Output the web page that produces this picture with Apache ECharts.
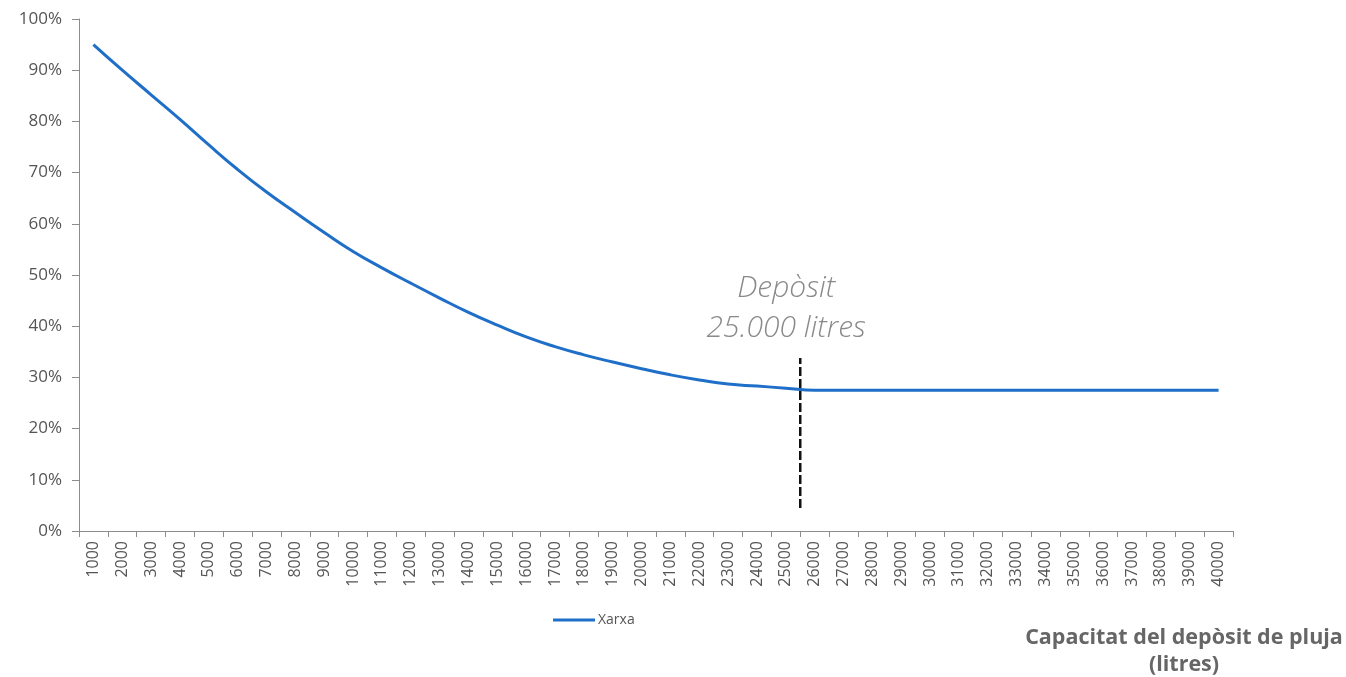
<!DOCTYPE html>
<html>
<head>
<meta charset="utf-8">
<script src="https://cdn.jsdelivr.net/npm/echarts@6/dist/echarts.min.js"></script>
<style>
  html, body { margin: 0; padding: 0; background: #fff; }
  #chart { width: 1346px; height: 677px; }
</style>
</head>
<body>
<div id="chart"></div>
<script>
// capacitat del depòsit (litres)
const capacitats = [
  1000, 2000, 3000, 4000, 5000, 6000, 7000, 8000, 9000, 10000,
  11000, 12000, 13000, 14000, 15000, 16000, 17000, 18000, 19000, 20000,
  21000, 22000, 23000, 24000, 25000, 26000, 27000, 28000, 29000, 30000,
  31000, 32000, 33000, 34000, 35000, 36000, 37000, 38000, 39000, 40000
];
// % d'aigua de xarxa
const xarxa = [
  95.0, 90.0, 85.2, 80.4, 75.4, 70.6, 66.2, 62.2, 58.3, 54.6,
  51.4, 48.4, 45.5, 42.7, 40.2, 37.9, 36.0, 34.4, 33.0, 31.7,
  30.5, 29.5, 28.7, 28.3, 27.9, 27.5, 27.5, 27.5, 27.5, 27.5,
  27.5, 27.5, 27.5, 27.5, 27.5, 27.5, 27.5, 27.5, 27.5, 27.5
];
const yTicks = [0, 10, 20, 30, 40, 50, 60, 70, 80, 90, 100];
// línia del depòsit escollit (entre 25000 i 26000)
const diposit = [[25500, 4.5], [25500, 33.8]];

const chart = echarts.init(document.getElementById("chart"));
const font = "'Open Sans', 'DejaVu Sans', sans-serif";

chart.setOption({
  animation: false,
  textStyle: { fontFamily: font },
  grid: { left: 79, right: 113, top: 19, bottom: 146 },
  legend: {
    data: ["Xarxa"],
    left: 548,
    top: 608,
    icon: "rect",
    itemWidth: 42,
    itemHeight: 3,
    itemGap: 3,
    textStyle: { color: "#555", fontSize: 14, fontFamily: font, padding: [0, 0, 0, -2] }
  },
  title: {
    text: "Capacitat del depòsit de pluja\n(litres)",
    left: 1179,
    top: 619,
    textAlign: "center",
    textStyle: {
      color: "#666",
      fontSize: 21.5,
      fontWeight: "bold",
      lineHeight: 27,
      align: "center",
      fontFamily: font
    }
  },
  xAxis: [
    {
      type: "category",
      data: capacitats.map(String),
      boundaryGap: true,
      axisLine: { lineStyle: { color: "#8c8c8c", width: 1 } },
      axisTick: { show: true, length: 6, lineStyle: { color: "#8c8c8c" } },
      axisLabel: {
        rotate: 90,
        interval: 0,
        color: "#555",
        fontSize: 16,
        margin: 10,
        fontFamily: font
      }
    },
    {
      type: "value",
      min: 500,
      max: 40500,
      show: false
    }
  ],
  yAxis: {
    type: "value",
    min: 0,
    max: 100,
    interval: 10,
    splitLine: { show: false },
    axisLine: { show: true, lineStyle: { color: "#8c8c8c", width: 1 } },
    axisTick: { show: true, length: 7, lineStyle: { color: "#8c8c8c" } },
    axisLabel: {
      color: "#555",
      fontSize: 17,
      margin: 17,
      fontFamily: font,
      formatter: (v) => (yTicks.includes(v) ? v + "%" : "")
    }
  },
  series: [
    {
      name: "Xarxa",
      type: "line",
      data: xarxa,
      showSymbol: false,
      symbol: "none",
      smooth: true,
      lineStyle: { color: "#1f6fc8", width: 3 },
      itemStyle: { color: "#1f6fc8" }
    },
    {
      name: "Depòsit",
      type: "line",
      xAxisIndex: 1,
      data: diposit,
      symbol: "none",
      silent: true,
      lineStyle: { color: "#111", width: 2.5, type: [9, 3] },
      markPoint: {
        symbol: "circle",
        symbolSize: 0,
        data: [{ coord: [25500, 33.8] }],
        label: {
          show: true,
          position: "top",
          offset: [-14, -4],
          formatter: "Depòsit\n25.000 litres",
          color: "#8a8a8a",
          fontSize: 30,
          fontStyle: "italic",
          fontWeight: 300,
          lineHeight: 40,
          align: "center",
          fontFamily: font
        }
      }
    }
  ]
});
</script>
</body>
</html>
